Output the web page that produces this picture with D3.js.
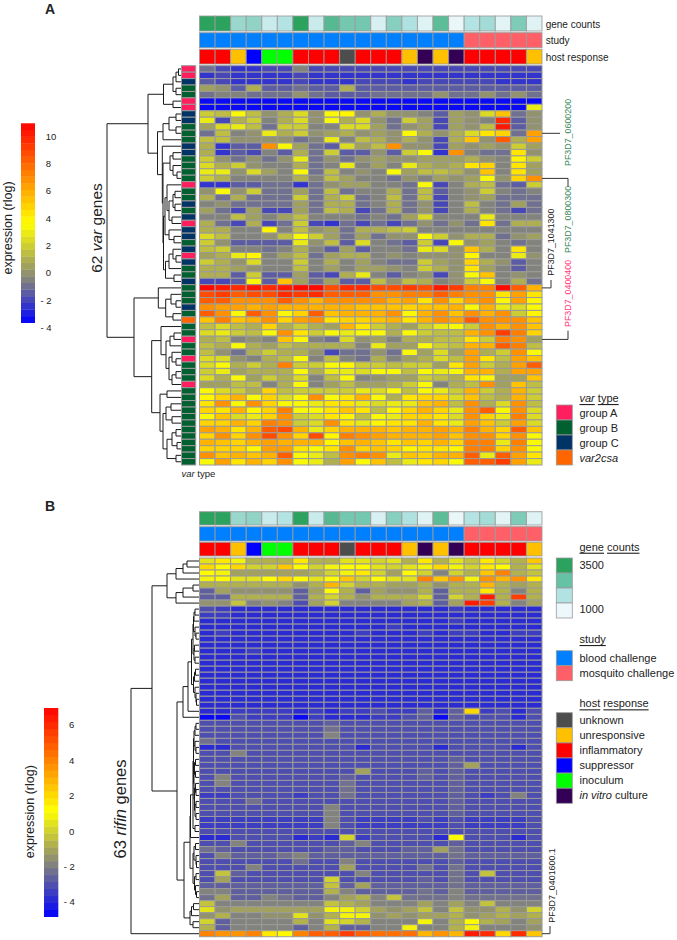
<!DOCTYPE html>
<html><head><meta charset="utf-8">
<script src="https://cdn.jsdelivr.net/npm/d3@7"></script>
<style>
html,body{margin:0;padding:0;background:#fff}
svg{display:block}
text{font-family:"Liberation Sans",Arial,sans-serif;fill:#222}
</style></head><body><svg id="c" width="677" height="940"></svg>
<script>
// ---------- sample annotations (22 columns) ----------
const sampleGeneCountsA=[3500,3500,2100,2200,1500,1800,3500,1500,2900,2500,2500,1300,2300,1850,1200,2800,1050,1800,2000,1150,2400,1200];
const sampleStudy=["blood","blood","blood","blood","blood","blood","blood","blood","blood","blood","blood","blood","blood","blood","blood","blood","blood","mosquito","mosquito","mosquito","mosquito","mosquito"];
const sampleHost=["inflammatory","inflammatory","unresponsive","suppressor","inoculum","inoculum","inflammatory","inflammatory","inflammatory","unknown","inflammatory","inflammatory","inflammatory","unresponsive","invitro","unresponsive","invitro","inflammatory","inflammatory","inflammatory","inflammatory","unresponsive"];
// ---------- var genes ----------
const varTypes=["A","A","C","B","B","A","A","C","C","B","B","B","C","C","B","B","B","B","A","B","B","C","B","C","A","C","C","B","C","A","C","B","B","C","B","B","B","C","B","O","B","B","A","B","B","A","B","B","B","A","B","B","B","B","B","B","B","B","B","B","B","B"];
const varExpr=[
[-1,-2,-2.5,-2.5,-2,-2,-.5,-2,-2,-2,-2,-2,-2,-2,-2,-2,-2,-2,-2,-2,-2,-2],
[-2.6,-2,-2.5,-2.5,-2.5,-2.5,-2,-2.5,-2.5,-2.5,-2.5,-2.5,-2.5,-2.5,-2.5,-2.5,-2.5,-2.5,-2.5,-2.5,-2.5,-2.5],
[-1.5,-2,-2.5,-2.5,-2.5,-2.5,-2,-2.5,-2.6,-2.6,-2,-2,-2,-2.5,-2,-2,-2,-2,-2,-2.5,-2.5,-2.2],
[.5,0,-1.5,.8,-1.5,-1.5,-1,-1.5,-1.5,.8,-1.5,-1.5,-1.5,-1.5,-1.5,-1.5,-1.5,-1.5,-1.5,-1.5,-1.5,-1.5],
[-1,-.5,-.5,-1,-1,-1,0,-1,-1.5,-1.5,-1.5,-1,-1,-1,-1,0,-1,-1,0,-1,0,-1],
[-3.6,-3.6,-3.6,-3.6,-3.6,-3.6,-3.6,-3.6,-3.6,-3.6,-3.6,-3.6,-3.6,-3.6,-3.6,-3.6,-3.6,-3.6,-3.6,-3.6,-3.6,-3.6],
[-3.6,-3.6,-3.6,-3.6,-3.6,-3.6,-3.6,-3.6,-3.6,-3.6,-3.6,-3.6,-3.6,-3.6,-3.6,-3.6,-3.6,-3.6,-3.6,-3.6,-3.6,2.8],
[2,1.5,3.6,1.5,0,1,2.5,0,3.5,3.8,0,1,0,0,-.5,-1.5,.5,0,2.5,5.5,-1,0],
[3,-2,1,2,-.5,1,2.5,0,3.6,1,2.5,0,-1,2,.5,-2,.5,0,-.5,9.5,-1.5,0],
[.5,2.5,3,1.5,-1,2,2,-.5,-.5,2.5,2.5,.5,-1,0,.5,-2,.5,0,1.5,10,-1.5,0],
[-1,1.5,-.5,0,3,1,2,0,.5,1,0,.5,0,3.6,1,0,1,2.5,4.5,5,-1,6.5],
[1.5,1.5,0,0,0,0,-1,-.5,2.8,-.5,1.5,.8,0,1,0,-2,1,5.5,0,8,1,6.5],
[1,-2.5,-1.5,-1.5,7,3.6,.5,-1,-1.5,2.5,.5,1.5,7,0,0,-2,.5,0,.5,0,2,.5],
[1,-2.5,-1.5,-2,-.5,-1.5,1,-1,2,-1.5,-1.5,0,-1.5,2,3.6,-2.5,7,-.5,-1,-1,4.5,0],
[2,0,-1,0,-1,0,3,-1,0,-1,0,.5,0,0,.5,.5,.5,1,0,-.5,4,2],
[2.5,1,2,0,-.5,-.5,1,-1,-.5,3,-.5,.5,-.5,3,1,.5,1,4.5,5,-.5,4.5,.5],
[3,3,0,2.5,.5,-.5,3.4,-1,1.5,-.5,0,-.5,3.6,.5,1.5,1.5,1,0,5.5,-.5,4.5,.5],
[2,1,-.5,-.5,-.5,-.5,1,-.5,1.5,.5,-.5,-.5,-1,0,-.5,.5,0,.5,3.6,0,5,7],
[-2.5,-2.5,-1.5,-1.5,-1,-1,-2.5,-1,0,.5,.5,-.5,-.5,-1,3.6,-2,-.5,1,1.5,-1,-1.5,2],
[0,3.6,0,2,-1,-1,.5,-1,1.5,-1,-.5,-.5,1,-1,1.5,-1.5,-.5,0,2,-.5,-1,-.5],
[1,-1,1,-1,-1,-1,2,-1,1,2,-1,-.5,1.5,-1,1.5,-2,-.5,0,.5,-1,-1,-1],
[-.5,0,-1,-1,-1,-1,.5,-1,1,1,-1,-.5,1,-1,0,-2,-.5,1.5,-.5,-1,.5,-1],
[.5,-1,-2,.5,-2,-2,.5,-1,1.5,1,-2,-1,1,-1,0,-2,-.5,1,-.5,-1,-2,-1],
[-.5,-.5,1.5,.5,-.5,.5,1.5,-.5,-.5,-.5,-1,-.5,-1,.5,2.5,-.5,-.5,-.5,3,-.5,-.5,-.5],
[1,-1,-2,1,-2,-1,2,-2,-2.5,-1,-2,-1,-2,-1,0,-1,0,-1,4.5,-1,1,1],
[1,1,-.5,-.5,3.8,-.5,1.5,0,.5,-1,1,1,1.5,2,-.5,-.5,-.5,-.5,-.5,-.5,-.5,-.5],
[2.5,1.5,-.5,-.5,0,1.5,3.6,2,.5,-1,.5,-1,0,0,3.6,2,0,1,1,-1,0,.5],
[2,0,-1.5,-1.5,-1.5,-1.5,3,0,1.5,-1.5,2.5,-.5,-1,-1.5,2,-2,3.6,0,.5,-.5,-1,-.5],
[1.5,2,-.5,-.5,-1,-.5,1,-.5,-1.5,.5,-1.5,-.5,-.5,-1,3,2.5,0,5.5,1,-.5,4.5,-.5],
[.5,1,3,3.8,-.5,.5,1.5,-1,.5,1,1,-.5,0,-.5,0,0,0,3.8,-.5,-.5,3,0],
[2,1,0,2.5,-.5,-.5,2,-.5,1,-.5,.5,-.5,-1,-1,2,.5,0,5,1,0,-1.5,-.5],
[1,1,.5,0,-.5,-.5,1.5,-.5,.5,-.5,.5,.5,0,-.5,2,1,0,4.5,.5,-.5,-1.5,-.5],
[1,1,-1.5,2,-1.5,-1.5,.5,-1.5,-2,1,3,-.5,-1.5,-.5,0,-2,0,3.6,5.5,-.5,0,-.5],
[-2,-2,-1.5,3.6,-1.5,5.5,.5,-1,.5,-1.5,-1.5,1.5,0,1.5,1,-.5,0,2,3.6,-.5,1,-1],
[10.5,10,9.5,10,9.5,10,10.5,10.5,8.5,9.5,9.5,8.5,8.5,9,8.5,10,9,7.5,7.5,10.5,8,6],
[8.5,9,8,8.5,8.5,9.5,9,9.5,8,8,8,7,7,7.5,7.5,8,7.5,7,7,4.5,6.5,4.5],
[8,8,7,7,7,8,7,6,7,7,7,7,6,6.5,4.5,7,5,6.5,7,3.6,6.5,4],
[7,6.5,6.5,6,6.5,6,6,6,6,6,5.5,5.5,5.5,5,5.5,5.5,6,3.5,6,3,2.5,3.6],
[8,7,3.6,8,7,3.6,5,8,5.5,6,6,6,7,3.6,6,7,5.5,7,6,7,2,3.8],
[5.5,7.5,5.5,6,7,5,6.5,7,4.5,5,5,5.5,6,4.5,6,7,6.5,8,7,7,7,5.5],
[1.5,2.5,1.5,1,5,1,2,1,.5,6,4.5,2,1,.5,2,3,3.6,2,7,6,7,5.5],
[2.5,3,2,1.5,3.6,7,4.5,2,3.6,3,3.5,3.6,1,3.6,2,1.5,1.5,6,7,9,7.5,5],
[1,1.5,-.5,0,-.5,5.5,3.6,-.5,-1,2.5,0,.5,-.5,1,1,1.5,1.5,4.5,2,7.5,7,.5],
[1.5,1,3.6,1,.5,1.5,1,1,1,1,-.5,3,.5,.5,3.6,2,1.5,6,6,8,7.5,1.5],
[1.5,0,-1,1,2,1,1,0,-2,-1,-1,0,-1,3.6,.5,2.5,.5,6.5,1,2,7,3.6],
[2.5,2.5,0,-.5,1,1.5,3.6,-.5,1.5,-.5,-1,1,-.5,.5,1,2.5,1.5,6.5,4.5,1.5,6.5,5.5],
[2.5,3.6,1,2,1,7.5,2,2,3.6,4,2,2,1.5,2,2,.5,4.5,6.5,2,1,6.5,8],
[2,3,.5,1,1,1,3.6,1,3,3,2.5,3.6,3.6,1.5,3.6,3,3.6,6,6,1,6.5,6.5],
[2.5,1,3.6,.5,2,1,2.5,-.5,1.5,3.6,-.5,0,.5,.5,2,1.5,1,4.5,3.5,.5,.5,5.5],
[.5,.5,1.5,1.5,-.5,1,3.6,-.5,.5,1.5,.5,.5,1,2,3.6,-.5,1,1.5,7,.5,5.5,1.5],
[3.6,2.5,2,1,5,1.5,2,2,2,2,3,2.5,3.5,1.5,3.6,3,2,6,2,1,6,2],
[3.8,5,6,3.6,5,2.5,3.6,7,3.6,4.5,6,3.6,1,4.5,5,5,2.5,5.5,1.5,1,6,2],
[4.5,7,3.6,7,5,3.5,3.5,3,4.5,4.5,3,2.5,3,3,5.5,6,1.5,7,1,2.5,7,1.5],
[5,4.5,6,4,5,7.5,3.5,3.6,4.5,5.5,4.5,1.5,3.8,5,6,5,3,7,8,3.5,7,2.5],
[3.6,5.5,2.5,3,5,7,2,2.5,4.5,4,1.5,3.5,3,5,5,4.5,2.5,7,5,3,7.5,2.5],
[5,5,6,5,7.5,7,2,2.5,7,4.5,3,4,4.5,4.5,6,4.5,3,6.5,5.5,2,6.5,2.5],
[6.5,6,4.5,6,8,8.5,6,3,5,6,6,6,5.5,6,6,6.5,6,7.5,6,5,8,5.5],
[5,7,5,7,8.5,7,5,8.5,4,7.5,7,6.5,6,6,6,6.5,5.5,7,7,5,7,3.5],
[6,5.5,5,6,6.5,6,6,6,4,5.5,6,5.5,4.5,5.5,5,6,5,7.5,7.5,3,7.5,3.5],
[5,5,5,4,6.5,6.5,4.5,3.6,4.5,7,5,5.5,5,4,4.5,4.5,4,7.5,7.5,5,7,3.5],
[7,5.5,6,5.5,6,8,3.6,3,1.5,7,7.5,7,3,5.5,5,6,6,8,3,8,6.5,4.5],
[3.6,6.5,4.5,6,5,7,3.6,3,1,6.5,3.6,5.5,1.5,3,4.5,5,3.6,8,8,9,6.5,3]
];
// ---------- rifin genes ----------
const rifinExpr=[
[.5,1.7,.8,-.5,-.5,-.5,1.8,-.5,-.8,.5,.5,0,.6,-.5,1.8,-.5,.5,-.2,1.8,0,-.7,2.5],
[2,1.2,2.2,0,0,2.5,1.2,0,.8,1.2,1.2,.5,.3,.5,.8,2.2,.8,.3,1.7,1.2,-.5,.5],
[1.2,.8,-1,-1,-1,-1,-1,-.8,0,.8,1.8,0,-1,1.2,0,-1.8,0,-.5,2.5,4,-.8,-.3],
[1,1.2,.6,.5,1.2,2,1.2,.5,1.2,2.5,.2,1.2,.5,.5,4,2.5,3.5,.8,3.5,2.7,3.8,1.8],
[-.8,-.5,-.8,-.8,-.8,-.8,-1.5,-.8,2.7,0,-.5,-.8,-1,-1,-.5,-1.5,-.5,-.5,2.7,-.5,-1,-.5],
[-2.5,-1,-1.5,-1.5,-1.5,-1.5,-2.5,-1.2,1.2,-.5,-2.5,-1,-1.5,-1.5,-.5,-2.5,-.5,-.8,1.8,-.8,-2,-.8],
[-2.8,-2.8,-.8,-.8,-.8,-.8,-2.8,-.8,0,-.8,-1.5,-.8,-.8,-.8,0,-2.5,0,-.5,6.5,-.5,5.5,-.5],
[-1.5,-1.5,-.2,-2,-1.5,-2,-3,-1,0,-2,-2,-1.8,-2,-1.2,-.5,-2.5,-1,6.5,5.5,-.5,-2,-1],
[-3.2,-3.3,-3.9,-3.9,-3.9,-3.9,-3.9,-3.9,-3.9,-3.9,-3.9,-3.9,-3.9,-3.9,-3.9,-3.9,-3.6,-3.9,-3.9,-3.9,-3.9,-3.9],
[-3.5,-3.3,-3.9,-3.9,-3.9,-3.9,-3.9,-3.9,-3.9,-3.9,-3.9,-3.9,-3.9,-3.9,-3.9,-3.9,-3.9,-3.9,-3.9,-3.9,-3.9,-3.9],
[-3.8,-3.7,-3.9,-3.9,-3.9,-3.9,-3.9,-3.9,-3.9,-3.9,-3.9,-3.9,-3.9,-3.9,-3.9,-3.9,-3.6,-3.9,-3.9,-3.9,-3.9,-3.9],
[-3.9,-3.9,-3.9,-3.9,-3.9,-3.9,-3.9,-3.9,-3.9,-3.9,-3.9,-3.9,-3.6,-3.9,-3.9,-3.9,-3.9,-3.9,-3.9,-3.9,-3.9,-3.9],
[-3.9,-3.5,-3.9,-3.9,-3.9,-3.9,-3.9,-3.9,-3.9,-3.9,-3.6,-3.9,-3.9,-3.9,-3.6,-3.9,-3.6,-3.6,-3.9,-3.9,-3.6,-3.6],
[-3.9,-3.9,-3.9,-3.9,-3.9,-3.9,-3.9,-3.9,-3.9,-3.9,-3.9,-3.9,-3.9,-3.9,-3.9,-3.9,-3.9,-3.9,-3.9,-3.9,-3.9,-3.9],
[-3.9,-3.9,-3.9,-3.9,-3.9,-3.9,-3.9,-3.9,-3.9,-3.9,-3.9,-3.9,-3.9,-3.9,-3.9,-3.9,-3.9,-3.9,-3.9,-3.9,-3.9,-3.9],
[-3.9,-3.9,-3.9,-3.6,-3.9,-3.9,-3.9,-3.9,-3.9,-3.9,-3.9,-3.9,-3.9,-3.9,-3.9,-3.9,-3.9,-3.9,-3.9,-3.9,-3.9,-3.9],
[-3.9,-3.9,-3.9,-3.9,-3.9,-3.9,-3.9,-3.9,-3.9,-3.9,-3.9,-3.9,-3.9,-3.9,-3.9,-3.9,-3.9,-3.9,-3.9,-3.9,-3.9,-3.9],
[-3.9,-3.9,-3.9,-3.9,-3.9,-3.9,-3.9,-3.9,-3.9,-3.7,-3.9,-3.9,-3.9,-3.9,-3.9,-3.9,-3.9,-3.9,-3.9,-3.9,-3.9,-3.9],
[-3.9,-3.9,-3.9,-3.9,-3.9,-3.9,-3.9,-3.9,-3.9,-3.9,-3.9,-3.9,-3.9,-3.9,-3.9,-3.9,-3.9,-3.9,-3.9,-3.9,-3.9,-3.9],
[-3.9,-3.9,-3.9,-3.9,-3.9,-3.9,-3.9,-3.9,-3.9,-3.9,-3.9,-3.9,-3.9,-3.9,-3.9,-3.9,-3.9,-3.9,-3.9,-3.9,-3.9,-3.9],
[-3.9,-3.9,-3.9,-3.9,-3.9,-3.9,-3.9,-3.9,-3.9,-3.9,-3.9,-3.9,-3.9,-3.9,-3.9,-3.9,-3.9,-3.9,-3.9,-3.9,-3.9,-3.9],
[-3.9,-3.9,-3.9,-3.9,-3.9,-3.9,-3.9,-3.9,-3.9,-3.9,-3.9,-3.9,-3.9,-3.9,-3.9,-3.9,-3.9,-3.9,-3.9,-3.9,-3.9,-3.9],
[-4,-4,-4,-4,-4,-4,-4,-4,-4,-4,-4,-4,-4,-4,-4,-4,-3.9,-4,-4,-4,-4,-4],
[-3.8,-3.8,-3.9,-3.9,-3.9,-3.9,-3.9,-3.9,-3.9,-3.9,-3.9,-3.9,-3.9,-3.9,-3.8,-3.9,-3.8,-3.8,-3.9,-3.9,-3.8,-3.9],
[-4,-4,-4,-4,-4,-4,-4,-4,-4,-4,-4,-4,-4,-4,-4,-4,-4,-4,-4,-4,-4,-4],
[-3.8,-3.8,-3.4,-3.4,-3.4,-3.4,-3.9,-3.6,-3.9,-3.6,-3.6,-3,-3.5,-3.4,-2.5,-4,-2.6,2,-3.5,-3,-3.8,-3],
[-4.6,-4.6,-3.2,-3.3,-3.3,-3.3,-4.6,-3.3,-3.9,-3.7,-3.7,-3.3,-3.3,-3.2,-2.6,-4.5,-2.7,-3.2,-3.2,-3,-3.8,-3],
[-3.2,-3.2,-3.2,-3.2,-3.2,-3.2,-3.2,-3.2,-2.6,-3.2,-3.2,-3.2,-3.2,-3.2,-3.2,-3.2,-3,-3.2,-3.2,-3.2,-3.2,-3.2],
[-3.2,-3.2,-3.2,-3.2,-3.2,-3.2,-3.2,-3.2,-2.3,-3.2,-3.2,-3.2,-3.2,-3.2,-3.2,-3.2,-3,-3.2,-3.2,-3.2,-3.2,-3.2],
[-2.9,-3.2,-3.2,-3.2,-3.2,-3.2,-3.2,-3.2,-2,-3.2,-3.2,-3.2,-3.2,-3.2,-3,-3.2,-3,-3.2,-3.2,-3.2,-3.2,-3.2],
[-2.3,-3.2,-3.2,-3.2,-3.2,-3.2,-3.2,-3.2,-3.2,-3.2,-3.2,-3.2,-3.2,-3.2,-3.2,-3.2,-3,-3.2,-3.2,-3.2,-3.2,-3.2],
[-3.8,-3.8,-3.2,-3.2,-3.2,-3.2,-3.2,-3.2,-3.2,-3.2,-3.9,-3.2,-3.2,-3.2,-3.2,-3.8,-3.2,-3.2,-3.2,-3.2,-3.8,-3.2],
[-3.2,-3.2,-2,-3.2,-3.2,-3.2,-3.2,-3.2,-3.2,-3.2,-3.2,-3.2,-3.2,-3.2,-3,-3.2,-3,-3.2,-3.2,-3.2,-3.2,-3.2],
[-3,-3.2,-3.2,-3.2,-3.2,-3.2,-3.2,-3.2,-3.2,-3.2,-3.2,-3.2,-3.2,-3.2,-3.2,-3.2,-2.8,-3.2,-3.2,-3.2,-3.2,-3.2],
[-3.2,-3.2,-3.2,-3.2,-3.2,-3.2,-3.2,-3.2,-3.2,-3.2,-3.2,-3.2,-3.2,-3.2,-3,-3.2,-2.6,-1,-3.2,-3.2,-3.2,-3.2],
[-3,-3.2,-3.2,-3.2,-3.2,-3.2,-3.2,-3.2,-3.2,-3,-1,-3.2,-3.2,-3.2,-2.8,-3.2,-2.5,-3.2,-3.2,-3.2,-3.2,-3.2],
[-3.1,-2,-3.2,-3.2,-3.2,-3.2,-3.1,-3.2,-3.2,-2.8,-3.2,-3.2,-3.2,-3.2,-2.8,-3.2,-2.8,-3.2,-3.2,-3.2,-3.2,-3.2],
[-2.9,-1.9,-3.1,-3.2,-3.2,-3.2,-3.1,-3.2,-3,-2.4,-3.1,-3.2,-3.1,-3.2,-3,-3.2,-2.8,-3.2,-3,-3.2,-3.1,-3.2],
[-2.9,-3.2,-3.2,-3.2,-3.2,-3.2,-3.2,-3.2,-3,-2.2,-3.2,-3.2,-3.2,-3.2,-3.2,-3.2,-2.8,-3.2,-3.2,-3.2,-3.2,-3.2],
[-3.5,-3.6,-3.2,-3.2,-3.2,-3.2,-3.4,-3.2,-3.2,-2.2,-3.2,-3.2,-3.2,-3.2,-3.2,-3.2,-2.8,-3.2,-3.5,-3.2,-2,-3.2],
[-3,-3.2,-3,-2.1,-3.2,-3.2,-3.2,-3.2,-3.2,-3.1,-3.2,-3.2,-3.2,-3.2,-3.2,-3.2,-2.7,-3,-3.2,-3,-3.2,-3],
[-3.2,-3.2,-3.2,-3.2,-3.2,-3.2,-3.2,-3.2,-1.9,-3.2,-3.2,-3,-3,-3.2,-3.1,-3.2,-2.8,-3.2,-3.2,-3.2,-3.2,-3.2],
[-3.2,-3.2,-3.2,-3.2,-3.2,-3.2,-3.2,-3.2,-1.9,-3.2,-3.2,-3,-3,-3.2,-3,-3,-2.8,-3.2,-3.2,-3.2,-3.2,-3],
[-3.3,-3.3,-3.3,-3.3,-3.3,-3.3,-3.3,-3.3,-1.9,-3.2,-3.3,-3.3,-3.3,-3.3,-3.2,-3.3,-2.9,-3.3,-3.3,-3.3,-3.3,-3.2],
[-3.3,-3.3,-3.3,-3.3,-3.3,-3.3,-3.3,-3.3,-1.9,-3.2,-3.3,-3.3,-3.3,-3.3,-3.3,-3.3,-2.9,-3.3,-3.3,-3.3,-3.3,-3.2],
[-3.1,-3.1,-3.1,-3.1,-3.1,-3.1,-3.1,-3.1,-3.1,-3.1,-3.1,-3.1,-3.1,-3.1,-3.1,-3.1,-3.1,-3.1,-3.1,-3.1,-3.1,-3.1],
[-3.9,-3.9,-3.2,-3.2,-3.2,-3.2,-3.7,-3.3,-3.8,.2,-3.3,-3.2,-3.2,-3.2,-3,-3.9,1.2,-3.2,-3.2,-3.2,-3.8,-3.2],
[-3,-3,-1.9,-3,-3,-3,-3,-3,-3,-2.7,-1.9,-3,-3,-3,-3,-3,-2.5,-3,-3,-3,-3,-3],
[-2.2,-2.8,-3,-3,-2.9,-3,-3,-3,-2.8,-2.6,-3,-2.9,-3,-2.8,-2.8,-1,-2.2,-3,-3,-2.9,-3,-3],
[-2.9,-2,-2.8,-2.8,-2.8,-2.1,-2,-2.8,-2.8,-2.6,-2.8,-2.8,-2.8,-2.8,-2.8,-2.8,-2.3,-2.8,-2.8,-2.8,-2.8,-2.8],
[-2.9,-2.9,-2.9,-2.9,-2.9,-2.9,-2.1,-2.9,-2.9,-2,-2.9,-2.9,-2.9,-2.9,-2.9,-2.9,-2.5,-2.9,-2.9,-2.9,-2.9,-2.9],
[-2.9,-2.9,-2.9,-2,-2.9,-2.9,-2.9,-2.9,-2.9,-.9,-2.9,-2.9,-2.9,-2.9,-2.4,-2.9,-2.4,-2.9,-2.9,-2.9,-2.9,-2.9],
[-2.9,-.4,-2.7,-2.9,-2.9,-2.9,-2.9,-2.9,-2.9,-2.9,-1.9,-2.9,-2.9,-2.9,-2.9,-2.9,-2.3,-2.9,-.2,-2.9,-2.9,-2.9],
[-2.9,-1,-2.9,-2.9,-2.9,-2.9,-2.9,-2.9,.3,-2.9,-2.9,-2.9,-2.9,-2.9,-2.5,-2.9,-2.3,-2.9,-2.9,-2.9,-2.9,-2.9],
[-2.8,-2.8,-2.8,-2.8,-2.8,-2.8,-2.8,-2.8,-.1,-2.8,-.9,-2.8,-2.8,-2.8,-2.5,-2.8,-2.3,-2.8,-2.8,-2.8,-2.8,-2.8],
[-1.9,-1.9,-2.7,-2.7,-2.7,-2.7,-2.7,-2.7,-.8,-1.9,-2.7,-2.7,-2.7,-2.7,-2.4,-2.7,-1.9,-2.7,-2.7,-2.7,-2.7,-2.7],
[-2.4,-1,-2.5,-2.5,-1.9,-2.3,-2.5,-2.5,-1.9,-1.2,-.7,-2,-.3,-2.2,-2.2,-2.4,-1.7,-2.3,-2.4,-2.4,-2.4,-2.4],
[-.2,-2,-2,-2,-2,-2,-2,-2,-.2,-.7,-1,-2,-2,-2,-1,-2,-1,-2,-.1,-2,-2,-2],
[.5,-1.5,-1.2,-1.2,-1.2,-1.2,-1.2,-1.2,1,.8,0,-1.2,-1.5,-1.2,-.2,-2,-.2,-1.5,-1.5,-.8,-1.5,.3],
[-1.5,-.5,-1.7,-1.7,-1.5,-1.5,.6,-1.5,-.6,1,1,-1.5,-1,-1.5,-1,-1,-.5,-1.5,-1,-.8,-1,-.8],
[0,-2.7,-2,-2,-1.7,-1.7,-.5,-2,.5,0,-.7,-1.7,-2,-1.7,1,-2,-.8,1.2,-.8,-1,-1.7,-1],
[-.5,-2.5,-2,-1.8,-1.8,-1.8,-2.8,-1.8,-.5,-2.5,-2.5,-1.8,-2,.8,-1.8,-2,-.8,.8,-2,-1.8,-2,-1.5],
[4,3.5,3.8,4,1.5,1.3,4,5,5,5.5,5,4.5,4.5,4.5,3,3.8,2.8,6.5,6,2,6,2.5]
];
// ---------- dendrograms: [merge height, child, child]; 0 = next leaf ----------
const dendroVar=[74,
 [33,[17.5,[8,[5,[2.5,0,0],0],[5,0,0]],[8,0,0]],
  [23.5,[18,[12,[5,0,0],[5,0,0]],0],
   [18.7,0,[18,[11,[8,0,0],[8,0,[4,0,0]]],
    [17.5,[16,[14,0,[12,[8,[6,0,0],[6,0,0]],[9,0,0]]],[12,0,[7,0,0]]],
     [15.5,[12,[8,0,[5,0,0]],0],[7,0,0]]]]]]],
 [47,[22.7,0,[15.3,[10,0,[5,0,0]],[8,0,0]]],
  [29.3,[20,0,[15,[11,[7,0,0],0],[12,[9,0,[5,0,0]],[9,[5,0,0],0]]]],
   [21,[14,0,0],[18,[15,[10,0,0],[9,0,0]],[14,[9,[5,0,0],[4,0,0]],[5,0,0]]]]]]];
const dendroRifin=[68,
 [47,[32,[23,[16,[12,0,0],0],0],[23,[16,[6,0,0],0],0]],
  [22,[16,[11,[7.5,[6,[5.5,[5,[4,0,0],0],[4,0,[3,0,0]]],[5,[4.5,0,0],[4,0,0]]],[5.5,[4.5,[3.5,0,0],0],[4,0,[3,0,[2.5,0,0]]]]],0],0],
   [15,[9,[8.5,[6,[5.5,[5,[4,[3,0,0],0],[4,0,[3,0,0]]],[5,[4.5,[3.5,0,0],[3.5,0,0]],[4.5,[3.5,0,[3,0,0]],[4,[3,0,0],[3,0,0]]]]],[4,0,0]],0],
     [6,[5,[3.5,0,0],[3,0,[2.5,0,0]]],[4.5,[3,0,0],[3.5,0,[2.5,0,0]]]]],
    [9,[7.5,[5.5,0,0],0],[6,0,0]]]]],0];
// ---------- legends ----------
const varTypeLegend=[["A","group A"],["B","group B"],["C","group C"],["O","var2csa"]];
const geneCountLegend=[3500,2667,1833,1000];
const studyLegend=[["blood","blood challenge"],["mosquito","mosquito challenge"]];
const hostLegend=[["unknown","unknown"],["unresponsive","unresponsive"],["inflammatory","inflammatory"],["suppressor","suppressor"],["inoculum","inoculum"],["invitro","in vitro culture"]];
const tickValuesA=[10,8,6,4,2,0,-2,-4];
const tickValuesB=[6,4,2,0,-2,-4];

const svg=d3.select("#c");
const varColor=d3.scaleOrdinal(["A","B","C","O"],["#ff1f5f","#006030","#003366","#ff6600"]);
const studyColor=d3.scaleOrdinal(["blood","mosquito"],["#0080ff","#ff6068"]);
const hostColor=d3.scaleOrdinal(["unknown","unresponsive","inflammatory","suppressor","inoculum","invitro"],["#4d4d4d","#ffc000","#ff0000","#0000ff","#00ff00","#330055"]);
const geneColor=d3.scaleLinear([1000,1833,2667,3500],["#edf8fb","#b2e2e2","#66c2a4","#2ca25f"]);
const BORDER="#9a9a9a";
const LEGEND_SIZE=11;
function heatScale(lo,grey,yel,hi){
  const ramp=d3.scaleLinear([lo,grey,yel,hi],["#0000ff","#808080","#ffff00","#ff0000"]);
  const N=30,step=(hi-lo)/N;
  return d3.scaleQuantize().domain([lo,hi]).range(d3.range(N).map(i=>ramp(lo+(i+.5)*step)));
}
const colsX=d3.scaleBand().domain(d3.range(22)).range([199.5,542]);
function heat(g,rows,y,color){
  const bw=colsX.bandwidth(),bh=y.bandwidth();
  const r=g.selectAll("g").data(rows).join("g");
  r.selectAll("rect").data((d,i)=>d.map((v,j)=>({v,j,i}))).join("rect")
   .attr("x",d=>colsX(d.j)).attr("y",d=>y(d.i)).attr("width",bw).attr("height",bh)
   .attr("fill",d=>color(d.v)).attr("stroke",BORDER).attr("stroke-width",1);
}
function strip(g,vals,y0,y1,color){
  g.selectAll(null).data(vals).join("rect")
   .attr("x",(d,i)=>colsX(i)).attr("y",y0).attr("width",colsX.bandwidth()).attr("height",y1-y0)
   .attr("fill",color).attr("stroke",BORDER).attr("stroke-opacity",.85).attr("stroke-width",1);
}
function dendro(g,tree,y,h2x){
  const p=d3.path();let leaf=0;const bh=y.bandwidth()/2;
  (function walk(n){
    if(n===0){return {x:h2x(0),y:y(leaf++)+bh};}
    const a=walk(n[1]),b=walk(n[2]),x=h2x(n[0]);
    p.moveTo(a.x,a.y);p.lineTo(x,a.y);p.lineTo(x,b.y);p.lineTo(b.x,b.y);
    return {x,y:(a.y+b.y)/2};
  })(tree);
  g.append("path").attr("d",p.toString()).attr("fill","none").attr("stroke","#1a1a1a").attr("stroke-width",1);
}
function colorbar(x0,x1,y0,y1,ticks,labelAt,color,zero,perUnit){
  const axisY=d3.scaleLinear().domain([0,1]).range([zero,zero-perUnit]);
  const g=svg.append("g");
  const lev=color.range(),hpx=(y1-y0)/lev.length;
  g.selectAll("rect").data(lev).join("rect").attr("x",x0).attr("width",x1-x0)
   .attr("y",(d,i)=>y1-(i+1)*hpx).attr("height",hpx+.3).attr("fill",d=>d);
  const ax=d3.axisRight(axisY).tickValues(ticks).tickSize(0)
    .tickFormat(v=>v<0?"- "+(-v):String(v));
  const a=svg.append("g").attr("transform",`translate(${labelAt-3},0)`).call(ax);
  a.select(".domain").remove();
  a.selectAll("text").style("font-family",'"Liberation Sans",Arial,sans-serif').attr("font-size",9.5).attr("fill","#333")
    .attr("x",3).attr("dx",d=>d<0?-5.3:0);
}
function rotText(x,y,parts,size,color){
  const t=svg.append("text").attr("transform",`translate(${x},${y}) rotate(-90)`)
    .attr("text-anchor","middle").attr("dominant-baseline","central").attr("font-size",size);
  parts.forEach(p=>t.append("tspan").text(p[0]).attr("font-style",p[1]?"italic":null).style("fill",color||"#222"));
}
function plain(x,y,parts,size){
  const t=svg.append("text").attr("x",x).attr("y",y).attr("dominant-baseline","central").attr("font-size",size);
  parts.forEach(p=>{const s=t.append("tspan").text(p[0]);
    if(p[1])s.attr("font-style","italic");
    if(p[2])s.attr("text-decoration","underline");});
  return t;
}
function legendBlocks(items,x,y0,h,fill){
  svg.append("g").selectAll("rect").data(items).join("rect")
   .attr("x",x).attr("width",16).attr("y",(d,i)=>y0+i*h).attr("height",h)
   .attr("fill",fill).attr("stroke",BORDER).attr("stroke-width",.8);
}
function callout(label,color,rowY,xEnd,yEnd,textX,textBottom){
  const p=d3.path();p.moveTo(542,rowY);p.lineTo(xEnd,rowY);if(yEnd!==null)p.lineTo(xEnd,yEnd);
  svg.append("path").attr("d",p.toString()).attr("fill","none").attr("stroke","#333").attr("stroke-width",1);
  svg.append("text").attr("transform",`translate(${textX},${textBottom}) rotate(-90)`).attr("dominant-baseline","central")
    .attr("font-size",8.9).style("fill",color).text(label);
}

// ----- Panel A -----
const yA=d3.scaleBand().domain(d3.range(varExpr.length)).range([65.7,465]);
const colorA=heatScale(-3.65,-.6,3.6,10.9);
const gA=svg.append("g");
strip(gA,sampleGeneCountsA,16,31,d=>geneColor(d));
strip(gA,sampleStudy,32.7,47.7,d=>studyColor(d));
strip(gA,sampleHost,49.3,64,d=>hostColor(d));
heat(gA.append("g"),varExpr,yA,colorA);
gA.append("g").selectAll("rect").data(varTypes).join("rect")
  .attr("x",181.5).attr("width",14.2).attr("y",(d,i)=>yA(i)).attr("height",yA.bandwidth())
  .attr("fill",d=>varColor(d)).attr("stroke",BORDER).attr("stroke-width",1);
dendro(svg.append("g"),dendroVar,yA,d3.scaleLinear([0,74],[181,107]));
[["gene counts",24],["study",40],["host response",56.7]].forEach(d=>plain(545.7,d[1],[[d[0]]],10));
plain(181.5,472.5,[["var",1],[" type"]],9.5);
plain(45,9,[["A"]],14).attr("font-weight","bold");
rotText(96,228,[["62 "],["var",1],[" genes"]],15.5);
rotText(8,228,[["expression (rlog)"]],12.5);
colorbar(21,35,123.3,322.7,tickValuesA,45.7,colorA,272.7,13.67);
const cy=i=>yA(i)+yA.bandwidth()/2;
callout("PF3D7_0600200","#3b8a5c",cy(10),560,null,568,166);
callout("PF3D7_0800300","#3b8a5c",cy(17),568,186.7,568,253);
callout("PF3D7_1041300","#222",cy(34),551,280,551,275.7);
callout("PF3D7_0400400","#ff3a78",cy(42),568,330.7,568,327);
plain(579.5,398,[["var",1,1],[" "],["type",0,1]],LEGEND_SIZE);
legendBlocks(varTypeLegend,556.3,405,15,d=>varColor(d[0]));
varTypeLegend.forEach((d,i)=>plain(579.5,412.5+15*i,[[d[1],d[0]==="O"]],LEGEND_SIZE));

// ----- Panel B -----
const yB=d3.scaleBand().domain(d3.range(rifinExpr.length)).range([558,936.7]);
const colorB=heatScale(-4.8,-1.9,1.2,7);
const gB=svg.append("g");
strip(gB,sampleGeneCountsA,511.7,525,d=>geneColor(d));
strip(gB,sampleStudy,526.7,541,d=>studyColor(d));
strip(gB,sampleHost,542.3,556,d=>hostColor(d));
heat(gB.append("g"),rifinExpr,yB,colorB);
dendro(svg.append("g"),dendroRifin,yB,d3.scaleLinear([0,68],[199,131]));
plain(45,506,[["B"]],14).attr("font-weight","bold");
rotText(119.5,809,[["63 "],["rifin",1],[" genes"]],16.5);
rotText(30,811.7,[["expression (rlog)"]],12.5);
colorbar(44,58.3,708,916.7,tickValuesB,69,colorB,831,17.7);
{const c=yB(62)+yB.bandwidth()/2;
 callout("PF3D7_0401600.1","#222",c,550,926,551.7,922.7);}
plain(579.5,546.7,[["gene",0,1],[" "],["counts",0,1]],LEGEND_SIZE);
legendBlocks(geneCountLegend,556.3,558,15,d=>geneColor(d));
plain(579.5,565,[["3500"]],LEGEND_SIZE);plain(579.5,609.3,[["1000"]],LEGEND_SIZE);
plain(579.5,639,[["study",0,1]],LEGEND_SIZE);
legendBlocks(studyLegend,556.3,650.7,15,d=>studyColor(d[0]));
studyLegend.forEach((d,i)=>plain(579.5,657.5+15*i,[[d[1]]],LEGEND_SIZE));
plain(579.5,703.3,[["host",0,1],[" "],["response",0,1]],LEGEND_SIZE);
legendBlocks(hostLegend,556.3,712.7,15.1,d=>hostColor(d[0]));
hostLegend.forEach((d,i)=>{
  const parts=d[0]==="invitro"?[["in vitro",1],[" culture"]]:[[d[1]]];
  plain(579.5,720+15*i,parts,LEGEND_SIZE);});
</script></body></html>
